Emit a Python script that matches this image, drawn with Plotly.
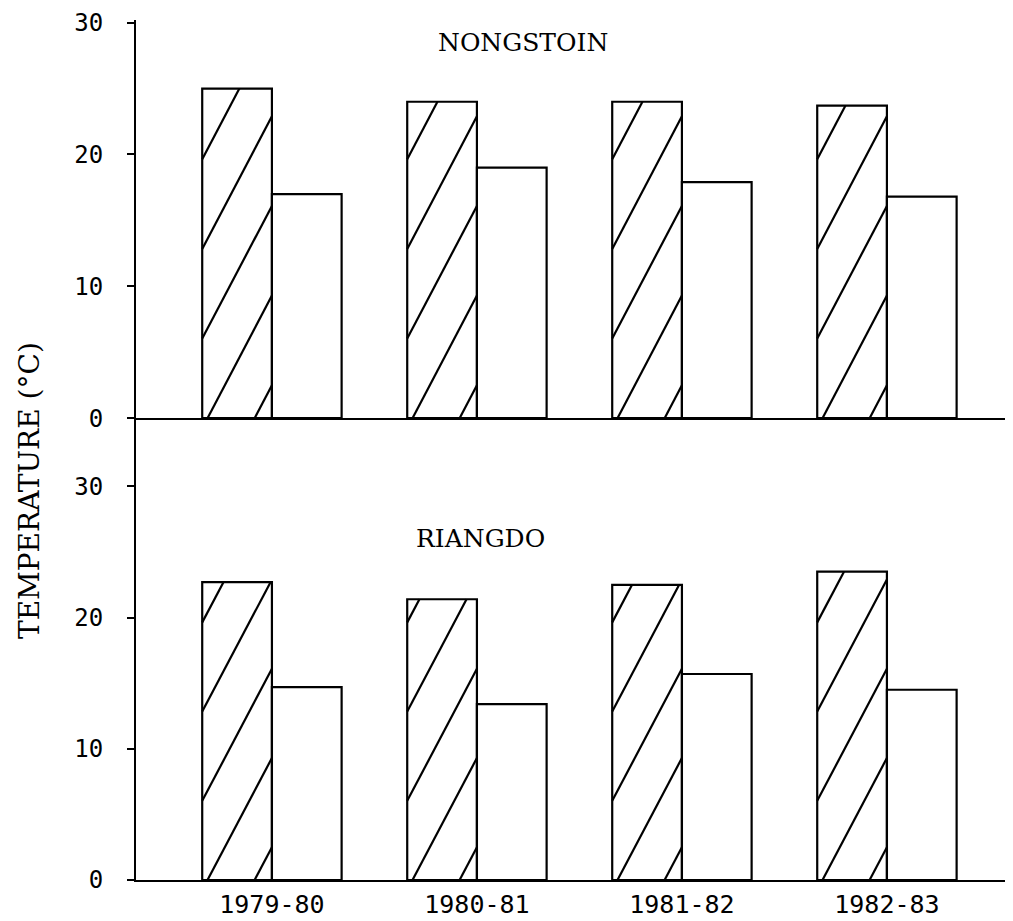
import plotly.graph_objects as go
from plotly.subplots import make_subplots

# ---------------- data ----------------
years = ["1979-80", "1980-81", "1981-82", "1982-83"]
nongstoin_hatched = [25.0, 24.0, 24.0, 23.7]
nongstoin_open = [17.0, 19.0, 17.9, 16.8]
riangdo_hatched = [22.7, 21.4, 22.5, 23.5]
riangdo_open = [14.7, 13.4, 15.7, 14.5]
y_tick_values = [0, 10, 20, 30]
y_tick_labels = ["0", "10", "20", "30"]
panel_titles = ["NONGSTOIN", "RIANGDO"]
y_title = "TEMPERATURE (°C)"

# ---------------- style ----------------
BAR_W = 0.34
LINE = dict(color="black", width=2.2)
TOP_RANGE = [0, 30.2]
BOT_RANGE = [0, 35.2]
X_RANGE = [-0.663, 3.615]
# page has an 8px body margin: figure is sized/offset to compensate
FIG_W, FIG_H = 1005, 913
PLOT_L, PLOT_T, PLOT_W, PLOT_H = 136, 20, 877, 860   # in page pixels

fig = make_subplots(rows=2, cols=1, shared_xaxes=False, vertical_spacing=0)


def hatch_lines(xs, heights, slope, spacing, phase):
    """Diagonal hatch segments clipped to each hatched bar (data units)."""
    hx, hy = [], []
    for xc, h in zip(xs, heights):
        x0, x1 = xc - BAR_W, xc
        w = x1 - x0
        c = -slope * w + phase
        while c < h:
            xs_ = max(x0, x0 + (0 - c) / slope)
            xe_ = min(x1, x0 + (h - c) / slope)
            if xe_ > xs_:
                hx += [xs_, xe_, None]
                hy += [slope * (xs_ - x0) + c, slope * (xe_ - x0) + c, None]
            c += spacing
    return hx, hy


xpos = list(range(len(years)))
panels = [(nongstoin_hatched, nongstoin_open, 1), (riangdo_hatched, riangdo_open, 2)]
for hatched, opened, row in panels:
    fig.add_trace(go.Bar(x=xpos, y=hatched, width=BAR_W, offset=-BAR_W,
                         marker=dict(color="white", line=LINE),
                         showlegend=False, hoverinfo="skip"), row=row, col=1)
    fig.add_trace(go.Bar(x=xpos, y=opened, width=BAR_W, offset=0,
                         marker=dict(color="white", line=LINE),
                         showlegend=False, hoverinfo="skip"), row=row, col=1)
    hx, hy = hatch_lines(xpos, hatched, slope=29.6, spacing=6.8, phase=2.5)
    fig.add_trace(go.Scatter(x=hx, y=hy, mode="lines",
                             line=dict(color="black", width=2.2),
                             showlegend=False, hoverinfo="skip"), row=row, col=1)

fig.update_layout(
    width=FIG_W, height=FIG_H,
    margin=dict(l=PLOT_L - 8, r=0, t=PLOT_T - 8, b=FIG_H + 8 - PLOT_T - PLOT_H),
    paper_bgcolor="white", plot_bgcolor="white",
    barmode="overlay",
    yaxis=dict(domain=[0.537, 1.0], range=TOP_RANGE),
    yaxis2=dict(domain=[0.0, 0.537], range=BOT_RANGE),
    xaxis=dict(anchor="y", range=X_RANGE, showticklabels=False),
    xaxis2=dict(anchor="y2", range=X_RANGE, tickvals=xpos, ticktext=years),
)

for ax in ["xaxis", "xaxis2"]:
    fig.layout[ax].update(showline=True, linecolor="black", linewidth=2.2,
                          showgrid=False, zeroline=False, ticks="",
                          tickfont=dict(family="DejaVu Sans Mono", size=25, color="black"),
                          ticklabelstandoff=1)
for ax in ["yaxis", "yaxis2"]:
    fig.layout[ax].update(showline=True, linecolor="black", linewidth=2.2,
                          showgrid=False, zeroline=False,
                          tickvals=y_tick_values, ticktext=y_tick_labels,
                          ticks="outside", ticklen=7, tickwidth=2.2, tickcolor="black",
                          tickfont=dict(family="DejaVu Sans Mono", size=24, color="black"),
                          ticklabelstandoff=19)


def px_x(p):
    return (p - PLOT_L) / PLOT_W


def px_y(p):
    return (PLOT_T + PLOT_H - p) / PLOT_H


fig.add_annotation(text=panel_titles[0], xref="paper", yref="paper",
                   x=px_x(523), y=px_y(42.5), xanchor="center", yanchor="middle",
                   showarrow=False,
                   font=dict(family="DejaVu Serif", size=25, color="black"))
fig.add_annotation(text=panel_titles[1], xref="paper", yref="paper",
                   x=px_x(480), y=px_y(538.5), xanchor="center", yanchor="middle",
                   showarrow=False,
                   font=dict(family="DejaVu Serif", size=25, color="black"))
fig.add_annotation(text=y_title, xref="paper", yref="paper",
                   x=px_x(29), y=px_y(491), xanchor="center", yanchor="middle",
                   textangle=-90, showarrow=False,
                   font=dict(family="DejaVu Serif", size=28, color="black"))

fig.write_html("out.html")
